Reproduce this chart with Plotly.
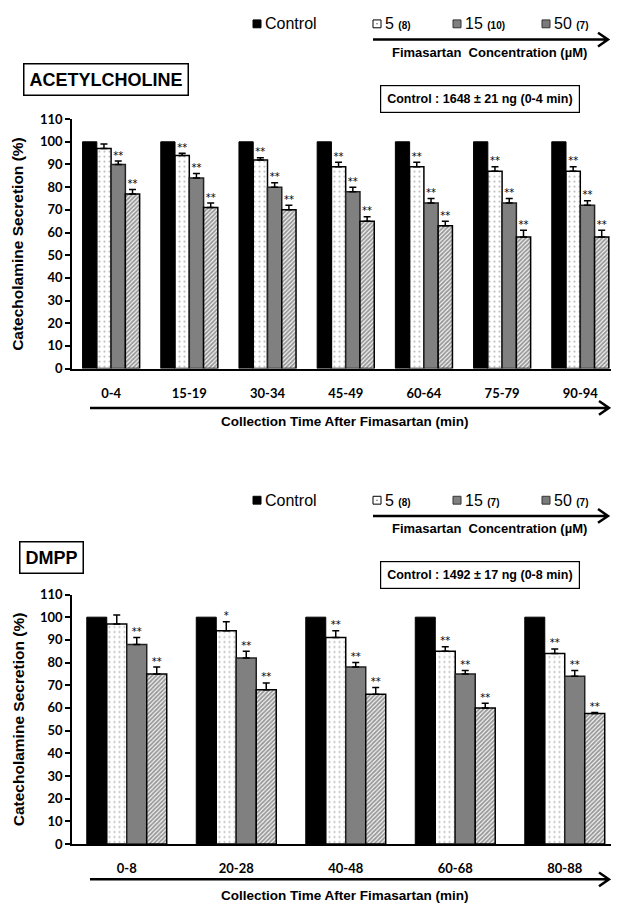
import plotly.graph_objects as go
import numpy as np

# ---------------- data ----------------
ach_times = ["0-4", "15-19", "30-34", "45-49", "60-64", "75-79", "90-94"]
ach_control = [100, 100, 100, 100, 100, 100, 100]
ach_5 = [97, 94, 92, 89, 89, 87, 87]
ach_5_err = [2, 1, 1, 2, 2, 2, 2]
ach_15 = [90, 84, 80, 78, 73, 73, 72]
ach_15_err = [1.5, 2, 2, 2, 2, 2, 2]
ach_50 = [77, 71, 70, 65, 63, 58, 58]
ach_50_err = [2, 2, 2, 2, 2, 3, 3]
ach_sig_5 = ["", "**", "**", "**", "**", "**", "**"]
ach_sig_15 = ["**", "**", "**", "**", "**", "**", "**"]
ach_sig_50 = ["**", "**", "**", "**", "**", "**", "**"]

dmpp_times = ["0-8", "20-28", "40-48", "60-68", "80-88"]
dmpp_control = [100, 100, 100, 100, 100]
dmpp_5 = [97, 94, 91, 85, 84]
dmpp_5_err = [4, 4, 3, 2, 2]
dmpp_15 = [88, 82, 78, 75, 74]
dmpp_15_err = [3, 3, 2, 1.5, 2.5]
dmpp_50 = [75, 68, 66, 60, 57.5]
dmpp_50_err = [3, 3, 3, 2, 0.5]
dmpp_sig_5 = ["", "*", "**", "**", "**"]
dmpp_sig_15 = ["**", "**", "**", "**", "**"]
dmpp_sig_50 = ["**", "**", "**", "**", "**"]

y_ticks = [0, 10, 20, 30, 40, 50, 60, 70, 80, 90, 100, 110]

# ---------------- helpers ----------------
# the page body has an 8px default margin, so the figure starts at (8, 8)
OFF = 8
W, H = 619 - 2 * OFF, 914 - 2 * OFF
def PX(x):
    return (x - OFF) / W
def PY(y):
    return 1 - (y - OFF) / H

AX_LEFT = 72
AX_RIGHT = OFF + W
BARGAP = 0.27
BW = (1 - BARGAP) / 4

fig = go.Figure()

def add_panel(times, ctrl, v5, e5, v15, e15, v50, e50, s5, s15, s50, xa, ya):
    idx = np.arange(len(times))
    zeros = [0] * len(times)
    common = dict(xaxis=xa, yaxis=ya, showlegend=False)
    fig.add_trace(go.Bar(x=idx, y=ctrl, marker=dict(color="black", line=dict(color="black", width=1)), **common))
    fig.add_trace(go.Bar(
        x=idx, y=v5,
        marker=dict(color="white", line=dict(color="black", width=1.5),
                    pattern=dict(shape=".", fgcolor="#777777", bgcolor="white", size=5, solidity=0.15)),
        error_y=dict(type="data", array=e5, arrayminus=zeros, symmetric=False,
                     color="black", thickness=1.5, width=3.5),
        **common))
    fig.add_trace(go.Bar(
        x=idx, y=v15,
        marker=dict(color="#808080", line=dict(color="#222222", width=1.5)),
        error_y=dict(type="data", array=e15, arrayminus=zeros, symmetric=False,
                     color="black", thickness=1.5, width=3.5),
        **common))
    fig.add_trace(go.Bar(
        x=idx, y=v50,
        marker=dict(color="white", line=dict(color="black", width=1.5),
                    pattern=dict(shape="/", fgcolor="#3a3a3a", bgcolor="#f4f4f4", size=3, solidity=0.6)),
        error_y=dict(type="data", array=e50, arrayminus=zeros, symmetric=False,
                     color="black", thickness=1.5, width=3.5),
        **common))
    # significance marks
    for k, (vals, errs, sig) in enumerate([(v5, e5, s5), (v15, e15, s15), (v50, e50, s50)], start=1):
        xs = idx - (1 - BARGAP) / 2 + BW * (k + 0.5)
        ys = np.array(vals) + np.array(errs)
        fig.add_trace(go.Scatter(x=xs, y=ys, mode="text", text=sig, textposition="top center",
                                 textfont=dict(size=10, color="black", family="DejaVu Sans"),
                                 **common))

add_panel(ach_times, ach_control, ach_5, ach_5_err, ach_15, ach_15_err, ach_50, ach_50_err,
          ach_sig_5, ach_sig_15, ach_sig_50, "x", "y")
add_panel(dmpp_times, dmpp_control, dmpp_5, dmpp_5_err, dmpp_15, dmpp_15_err, dmpp_50, dmpp_50_err,
          dmpp_sig_5, dmpp_sig_15, dmpp_sig_50, "x2", "y2")

tickfont = dict(family="Lato", size=13, color="black", weight="bold")

def xaxis_cfg(times, anchor, spacing):
    return dict(domain=[PX(AX_LEFT), 1.0],
                range=[-0.5, -0.5 + (AX_RIGHT - AX_LEFT) / spacing], anchor=anchor,
                tickmode="array", tickvals=list(range(len(times))), ticktext=times,
                showline=True, linecolor="black", linewidth=1.5, ticks="",
                tickfont=tickfont, ticklabelstandoff=12, showgrid=False, zeroline=False)

def yaxis_cfg(y0, y110, anchor):
    return dict(domain=[PY(y0), PY(y110)], range=[0, 110], anchor=anchor,
                tickmode="array", tickvals=y_ticks, ticks="outside", ticklen=5, tickwidth=1.5,
                tickcolor="black", showline=True, linecolor="black", linewidth=1.5,
                tickfont=tickfont, showgrid=False, zeroline=False)

fig.update_layout(
    width=W, height=H,
    margin=dict(l=0, r=0, t=0, b=0),
    paper_bgcolor="white", plot_bgcolor="white",
    barmode="group", bargap=BARGAP, bargroupgap=0,
    xaxis=xaxis_cfg(ach_times, "y", 78.2),
    yaxis=yaxis_cfg(367, 113, "x"),
    xaxis2=xaxis_cfg(dmpp_times, "y2", 109.5),
    yaxis2=yaxis_cfg(851, 597, "x2"),
    showlegend=False,
)

annotations = []
shapes = []

def text(x, y, s, size, bold=True, xanchor="center", family="Liberation Sans", **kw):
    annotations.append(dict(x=PX(x), y=PY(y), xref="paper", yref="paper", text=s,
                            showarrow=False, xanchor=xanchor, yanchor="middle",
                            font=dict(family=family, size=size, color="black",
                                      weight="bold" if bold else "normal"), **kw))

def arrow(x0, x1, y, width=2.5):
    path = (f"M {PX(x0)},{PY(y)} L {PX(x1)},{PY(y)} "
            f"M {PX(x1 - 10)},{PY(y - 7)} L {PX(x1)},{PY(y)} L {PX(x1 - 10)},{PY(y + 7)}")
    shapes.append(dict(type="path", path=path, xref="paper", yref="paper",
                       line=dict(color="black", width=width)))

def square(x, y, fill, line="black", size=8):
    shapes.append(dict(type="rect", xref="paper", yref="paper",
                       x0=PX(x), x1=PX(x + size), y0=PY(y + size / 2), y1=PY(y - size / 2),
                       fillcolor=fill, line=dict(color=line, width=1)))

def legend_block(yc, n5, n15, n50):
    square(253, yc, "black")
    text(263, yc, "Control", 16, bold=False, xanchor="left")
    square(373, yc, "white")
    shapes.append(dict(type="rect", xref="paper", yref="paper",
                       x0=PX(376.5), x1=PX(377.5), y0=PY(yc + 0.5), y1=PY(yc - 0.5),
                       fillcolor="black", line=dict(width=0)))
    text(383, yc, f"5 <span style='font-size:10px'><b>({n5})</b></span>", 16, bold=False, xanchor="left")
    square(453, yc, "#808080", line="#333333")
    text(463, yc, f"15 <span style='font-size:10px'><b>({n15})</b></span>", 16, bold=False, xanchor="left")
    square(542, yc, "#7a7a7a", line="#333333")
    text(552, yc, f"50 <span style='font-size:10px'><b>({n50})</b></span>", 16, bold=False, xanchor="left")
    arrow(373, 608, yc + 16, width=2.5)
    text(489, yc + 29, "Fimasartan&nbsp;&nbsp;Concentration (µM)", 13)

# top legend
legend_block(16, 8, 10, 7)
# bottom legend
legend_block(501, 8, 7, 7)

# panel titles
text(106, 73, "ACETYLCHOLINE", 18, bordercolor="black", borderwidth=1.5, borderpad=5)
text(51, 559, "DMPP", 18, bordercolor="black", borderwidth=1.5, borderpad=5)

# control boxes
text(480, 93, "Control : 1648 ± 21 ng (0-4 min)", 12.5, bordercolor="black", borderwidth=1.2, borderpad=6)
text(480, 577, "Control : 1492 ± 17 ng (0-8 min)", 12.5, bordercolor="black", borderwidth=1.2, borderpad=6)

# y-axis titles
text(18, 240, "Catecholamine Secretion (%)", 15.5, textangle=-90)
text(18, 724, "Catecholamine Secretion (%)", 15.5, textangle=-90)

# x-axis arrows and titles
arrow(90, 609, 407)
text(345, 421, "Collection Time After Fimasartan (min)", 13.5)
arrow(90, 609, 887)
text(345, 903, "Collection Time After Fimasartan (min)", 13.5)

fig.update_layout(annotations=annotations, shapes=shapes)

fig.write_html("out.html")
